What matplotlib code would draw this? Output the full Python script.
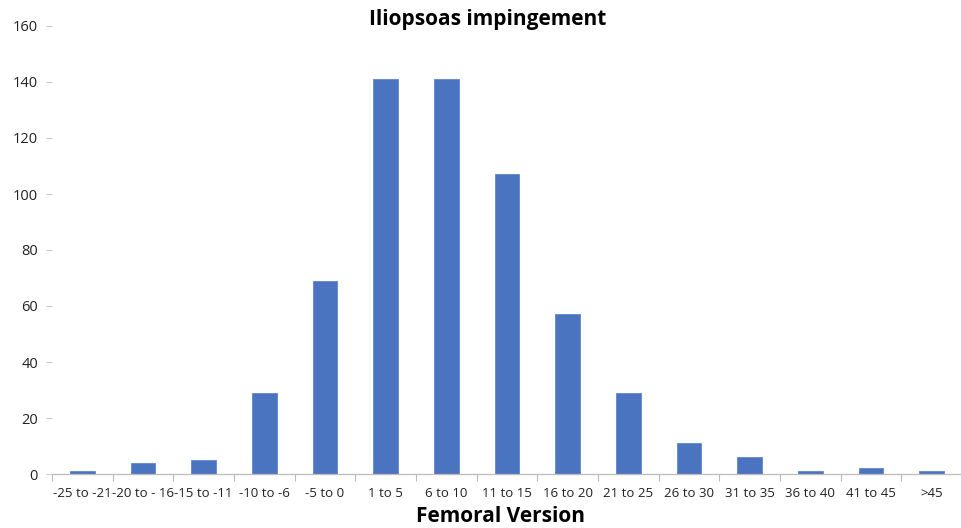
import matplotlib
matplotlib.use("Agg")
import matplotlib.pyplot as plt
import numpy as np

categories = ["-25 to -21", "-20 to - 16", "-15 to -11", "-10 to -6", "-5 to 0",
              "1 to 5", "6 to 10", "11 to 15", "16 to 20", "21 to 25",
              "26 to 30", "31 to 35", "36 to 40", "41 to 45", ">45"]
counts = [1, 4, 5, 29, 69, 141, 141, 107, 57, 29, 11, 6, 1, 2, 1]
y_ticks = [0, 20, 40, 60, 80, 100, 120, 140, 160]

plt.rcParams['font.family'] = ['Open Sans', 'DejaVu Sans']

fig = plt.figure(figsize=(9.62, 5.28), dpi=100)
ax = fig.add_axes([52/962, 1-474/528, 910/962, (474-26)/528])

x = np.arange(len(categories))
ax.bar(x, counts, width=0.41, color='#4a74bf', edgecolor='#6286cc', linewidth=0.6)

ax.set_xlim(-0.5, len(categories)-0.5)
ax.set_ylim(0, 160)
ax.set_yticks(y_ticks)
ax.set_yticklabels([str(v) for v in y_ticks], fontsize=10.5, color='#222222')
ax.tick_params(axis='y', length=4, color='#cccccc', width=0.8, pad=6)

ax.set_xticks(x)
ax.set_xticklabels(categories, fontsize=9.5, color='#222222')
ax.tick_params(axis='x', length=0, pad=9.5)
ax.set_xticks(np.arange(-0.5, len(categories)+0.5, 1), minor=True)
ax.tick_params(axis='x', which='minor', length=5, color='#bbbbbb', width=0.8)

for s in ['top', 'right', 'left']:
    ax.spines[s].set_visible(False)
ax.spines['bottom'].set_color('#bbbbbb')
ax.spines['bottom'].set_linewidth(0.9)

fig.text(488/962, 1-19/528, "Iliopsoas impingement", ha='center', va='center',
         fontsize=15, fontweight='bold', color='black')
fig.text(501/962, 1-516/528, "Femoral Version", ha='center', va='center',
         fontsize=15, fontweight='bold', color='black')

fig.savefig("out.png", dpi=100)
